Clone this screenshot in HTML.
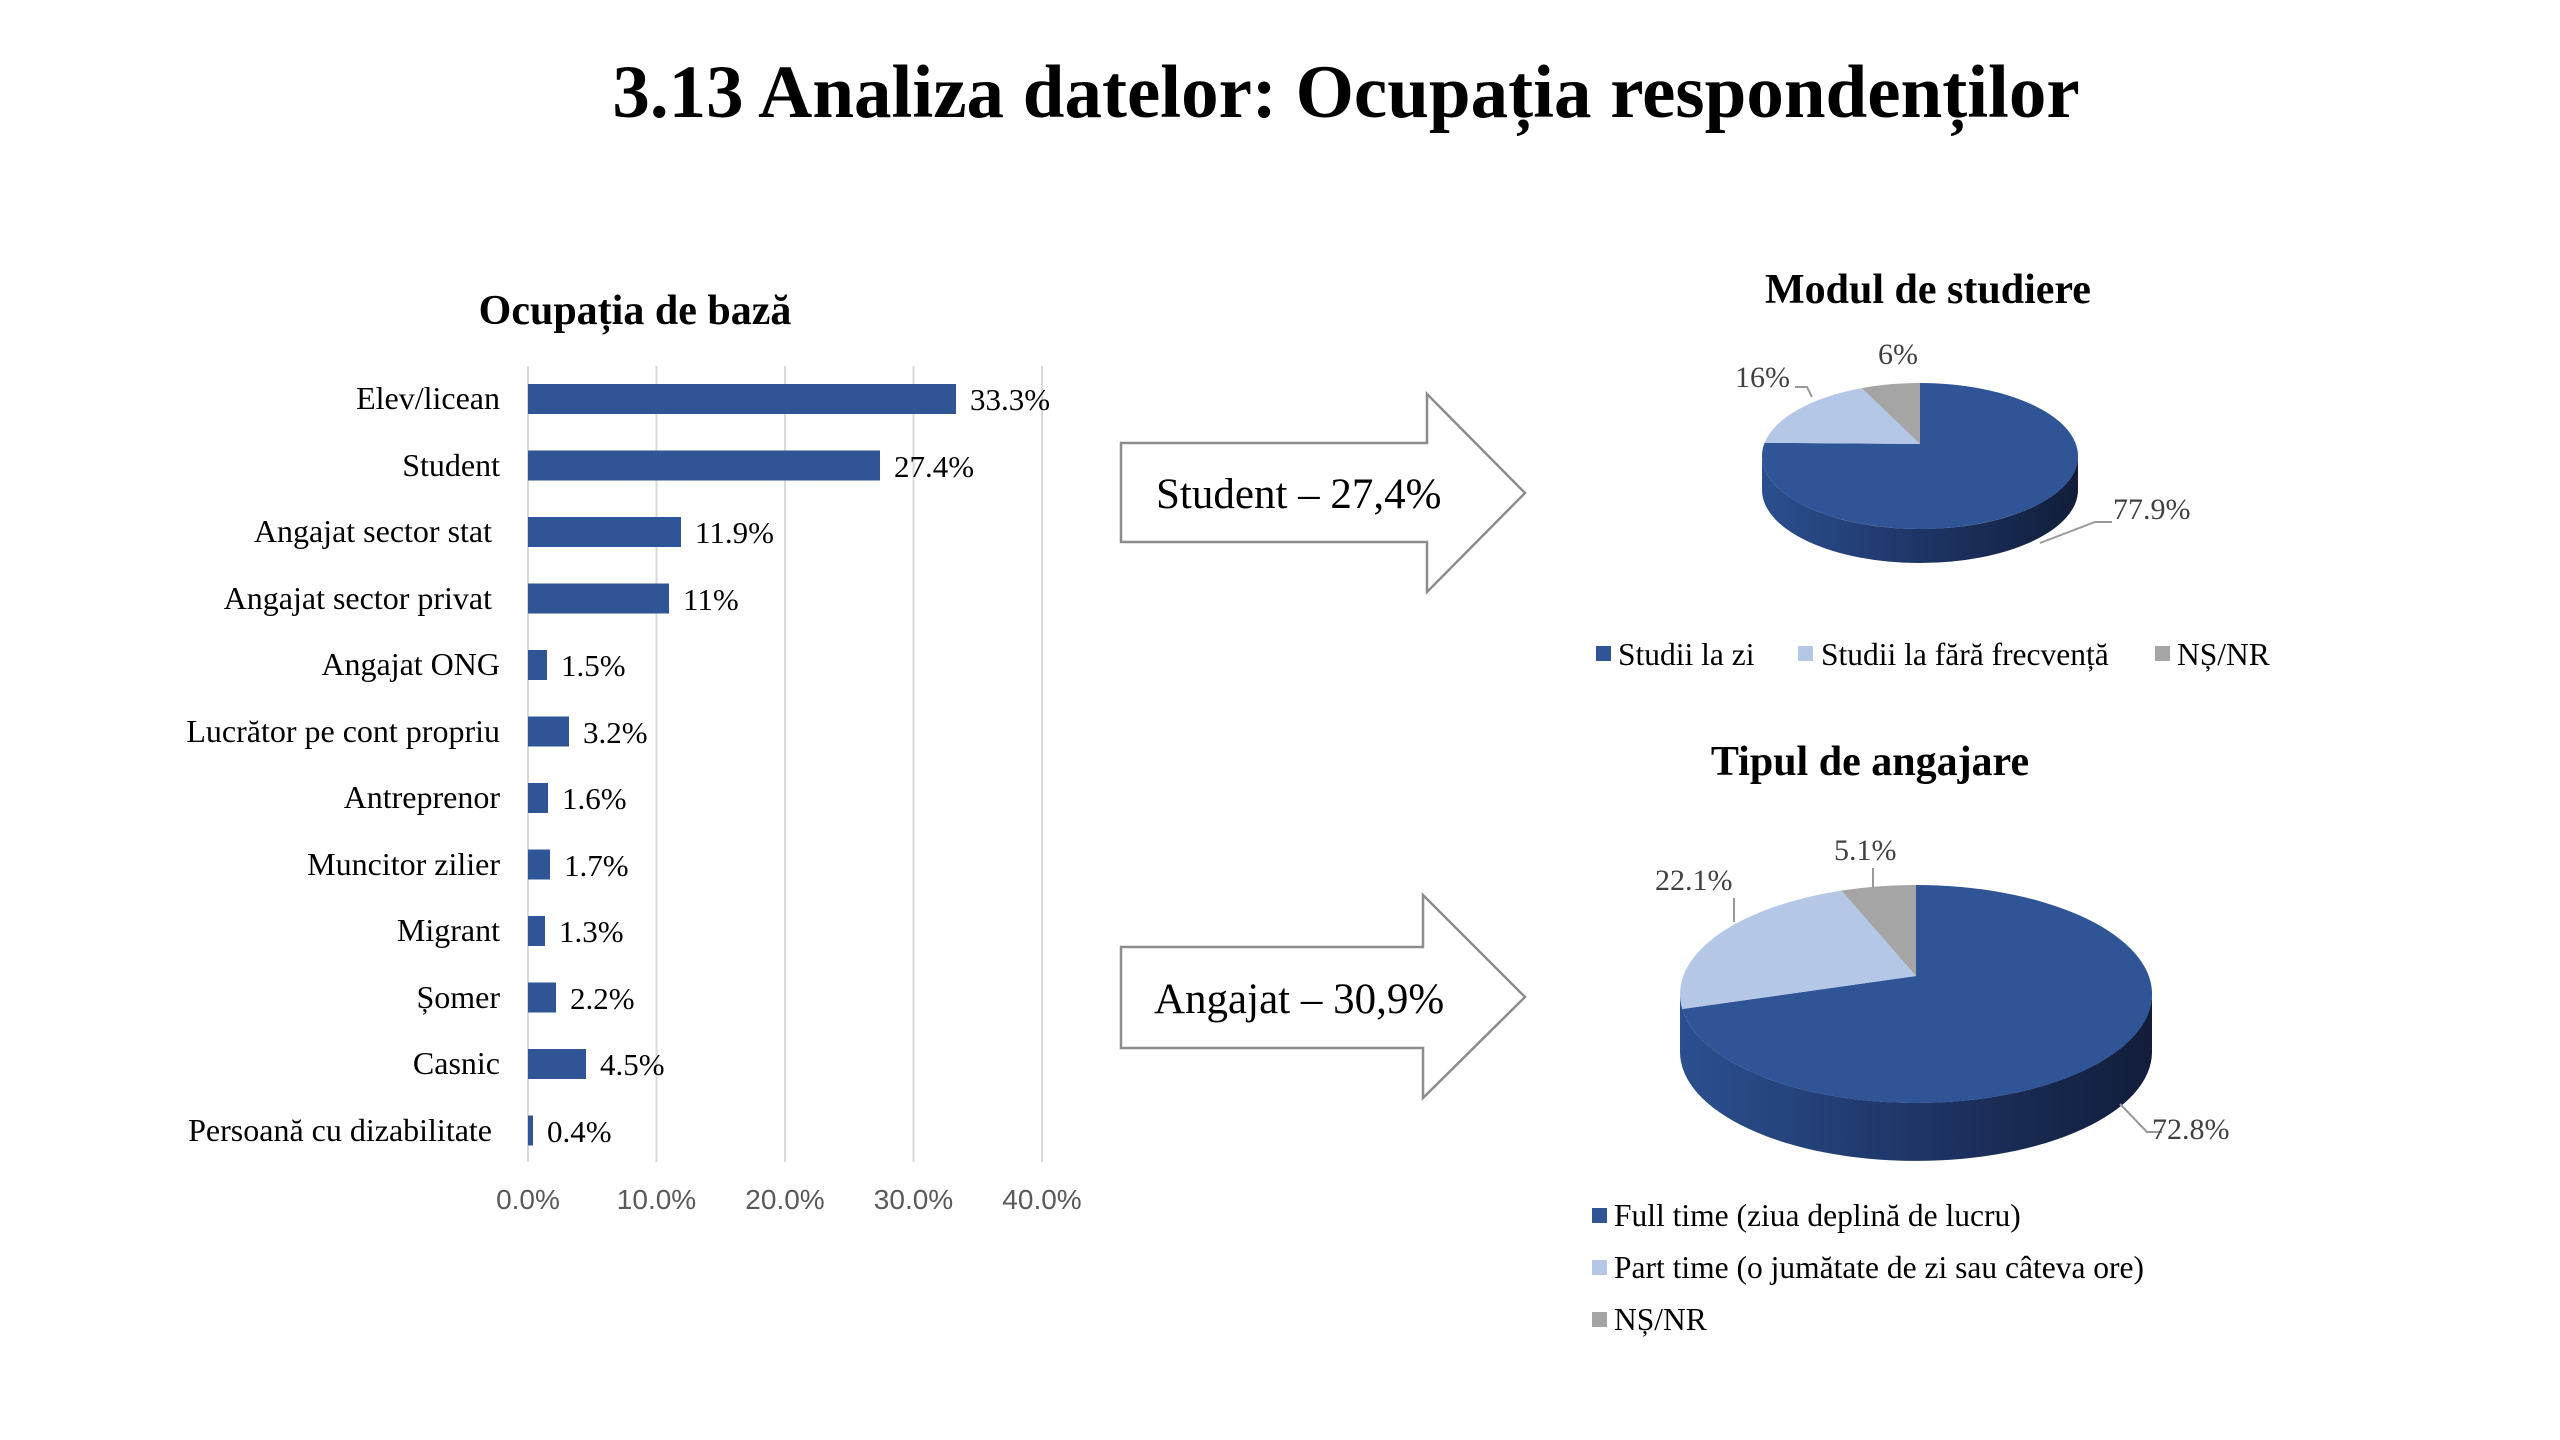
<!DOCTYPE html>
<html><head><meta charset="utf-8"><style>
html,body{margin:0;padding:0;background:#fff;}
svg{display:block;}
.s{font-family:"Liberation Serif",serif;}
</style></head><body>
<svg width="2560" height="1440" viewBox="0 0 2560 1440" xmlns="http://www.w3.org/2000/svg">
<defs>
<linearGradient id="side" x1="0" x2="1" y1="0" y2="0">
<stop offset="0" stop-color="#2b4f8f"/><stop offset="0.5" stop-color="#1e3566"/><stop offset="1" stop-color="#111d3a"/>
</linearGradient>
</defs>
<text x="1346" y="117" text-anchor="middle" class="s" font-size="75" font-weight="bold" fill="#000">3.13 Analiza datelor: Ocupația respondenților</text>

<!-- Bar chart -->
<text x="635" y="324" text-anchor="middle" class="s" font-size="42" font-weight="bold">Ocupația de bază</text>
<g stroke="#d9d9d9" stroke-width="2">
<line x1="528" y1="366" x2="528" y2="1162"/><line x1="656.5" y1="366" x2="656.5" y2="1162"/><line x1="785" y1="366" x2="785" y2="1162"/><line x1="913.5" y1="366" x2="913.5" y2="1162"/><line x1="1042" y1="366" x2="1042" y2="1162"/>
</g>
<g font-family="Liberation Sans, sans-serif" font-size="28" fill="#595959" text-anchor="middle">
<text x="528" y="1209">0.0%</text><text x="656.5" y="1209">10.0%</text><text x="785" y="1209">20.0%</text><text x="913.5" y="1209">30.0%</text><text x="1042" y="1209">40.0%</text>
</g>
<g fill="#2f5597">
<rect x="528" y="384" width="428" height="30"/>
<rect x="528" y="450.5" width="352" height="30"/>
<rect x="528" y="517" width="153" height="30"/>
<rect x="528" y="583.5" width="141" height="30"/>
<rect x="528" y="650" width="19" height="30"/>
<rect x="528" y="716.5" width="41" height="30"/>
<rect x="528" y="783" width="20" height="30"/>
<rect x="528" y="849.5" width="22" height="30"/>
<rect x="528" y="916" width="17" height="30"/>
<rect x="528" y="982.5" width="28" height="30"/>
<rect x="528" y="1049" width="58" height="30"/>
<rect x="528" y="1115.5" width="5" height="30"/>
</g>
<g class="s" font-size="32" text-anchor="end" fill="#000">
<text x="500" y="409">Elev/licean</text>
<text x="500" y="476">Student</text>
<text x="492" y="542">Angajat sector stat</text>
<text x="492" y="609">Angajat sector privat</text>
<text x="500" y="675">Angajat ONG</text>
<text x="500" y="742">Lucrător pe cont propriu</text>
<text x="500" y="808">Antreprenor</text>
<text x="500" y="875">Muncitor zilier</text>
<text x="500" y="941">Migrant</text>
<text x="500" y="1008">Șomer</text>
<text x="500" y="1074">Casnic</text>
<text x="492" y="1141">Persoană cu dizabilitate</text>
</g>
<g class="s" font-size="31" fill="#000">
<text x="970" y="410">33.3%</text>
<text x="894" y="477">27.4%</text>
<text x="695" y="543">11.9%</text>
<text x="683" y="610">11%</text>
<text x="561" y="676">1.5%</text>
<text x="583" y="743">3.2%</text>
<text x="562" y="809">1.6%</text>
<text x="564" y="876">1.7%</text>
<text x="559" y="942">1.3%</text>
<text x="570" y="1009">2.2%</text>
<text x="600" y="1075">4.5%</text>
<text x="547" y="1142">0.4%</text>
</g>

<!-- Arrows -->
<polygon points="1121,443 1427,443 1427,394 1525,493 1427,592 1427,542 1121,542" fill="#fff" stroke="#8c8c8c" stroke-width="2.5"/>
<text x="1156" y="508" class="s" font-size="43">Student – 27,4%</text>
<polygon points="1121,947 1423,947 1423,895 1525,997 1423,1098 1423,1048 1121,1048" fill="#fff" stroke="#8c8c8c" stroke-width="2.5"/>
<text x="1154" y="1013" class="s" font-size="43">Angajat – 30,9%</text>

<!-- Pie 1 -->
<text x="1928" y="303" text-anchor="middle" class="s" font-size="42" font-weight="bold">Modul de studiere</text>
<path d="M1762,456 A158,73 0 0 0 2078,456 L2078,490 A158,73 0 0 1 1762,490 Z" fill="url(#side)"/>
<path d="M1920,444 L1920,383 A158,73 0 1 1 1764.6,442.8 Z" fill="#2f5597"/>
<path d="M1920,444 L1764.6,442.8 A158,73 0 0 1 1861.8,388.1 Z" fill="#b4c7e7"/>
<path d="M1920,444 L1861.8,388.1 A158,73 0 0 1 1920,383 Z" fill="#a5a5a5"/>
<polyline points="1812,397 1807,387 1795,387" fill="none" stroke="#999" stroke-width="2"/>
<polyline points="2040,543 2095,522 2112,522" fill="none" stroke="#999" stroke-width="2"/>
<g class="s" font-size="30" fill="#404040">
<text x="1878" y="364">6%</text>
<text x="1735" y="387">16%</text>
<text x="2113" y="519">77.9%</text>
</g>
<g class="s" font-size="31.5" fill="#000">
<rect x="1596" y="646" width="15" height="15" fill="#2f5597"/><text x="1618" y="665">Studii la zi</text>
<rect x="1798" y="646" width="15" height="15" fill="#b4c7e7"/><text x="1821" y="665">Studii la fără frecvență</text>
<rect x="2155" y="646" width="15" height="15" fill="#a5a5a5"/><text x="2177" y="665">NȘ/NR</text>
</g>

<!-- Pie 2 -->
<text x="1870" y="775" text-anchor="middle" class="s" font-size="42" font-weight="bold">Tipul de angajare</text>
<path d="M1680,994 A236,109 0 0 0 2152,994 L2152,1052 A236,109 0 0 1 1680,1052 Z" fill="url(#side)"/>
<path d="M1916,976 L1916,885 A236,109 0 1 1 1682.3,1009 Z" fill="#2f5597"/>
<path d="M1916,976 L1682.3,1009 A236,109 0 0 1 1841.5,890.6 Z" fill="#b4c7e7"/>
<path d="M1916,976 L1841.5,890.6 A236,109 0 0 1 1916,885 Z" fill="#a5a5a5"/>
<line x1="1873" y1="888" x2="1873" y2="868" stroke="#999" stroke-width="2"/>
<line x1="1734" y1="922" x2="1734" y2="898" stroke="#999" stroke-width="2"/>
<polyline points="2120,1104 2147,1132 2162,1132" fill="none" stroke="#999" stroke-width="2"/>
<g class="s" font-size="30" fill="#404040">
<text x="1834" y="860">5.1%</text>
<text x="1655" y="890">22.1%</text>
<text x="2152" y="1139">72.8%</text>
</g>
<g class="s" font-size="31.5" fill="#000">
<rect x="1592" y="1208" width="15" height="15" fill="#2f5597"/><text x="1614" y="1226">Full time (ziua deplină de lucru)</text>
<rect x="1592" y="1260" width="15" height="15" fill="#b4c7e7"/><text x="1614" y="1278">Part time (o jumătate de zi sau câteva ore)</text>
<rect x="1592" y="1312" width="15" height="15" fill="#a5a5a5"/><text x="1614" y="1330">NȘ/NR</text>
</g>
</svg>
</body></html>
